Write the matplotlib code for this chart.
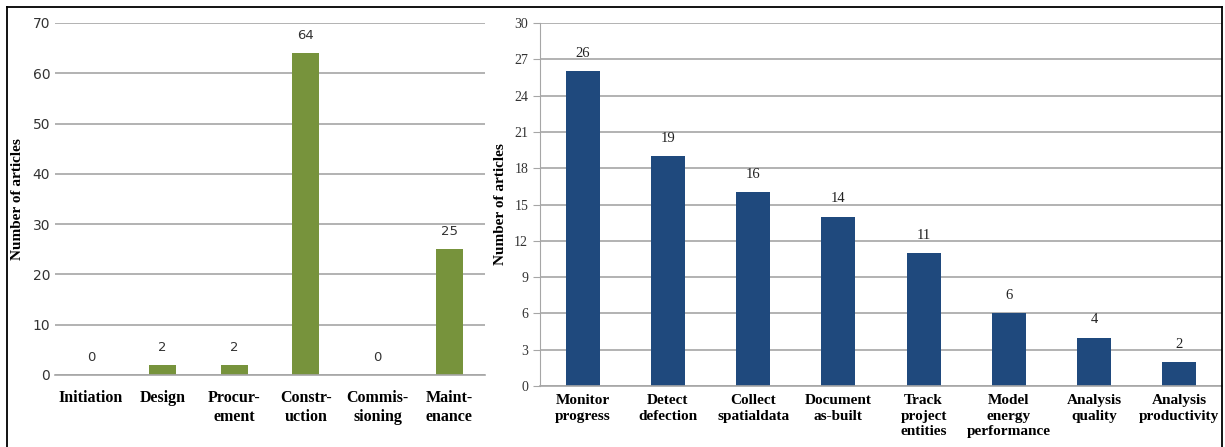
import matplotlib
matplotlib.use('Agg')
import matplotlib.pyplot as plt
from matplotlib.lines import Line2D

# data
phases = ['Initiation', 'Design', 'Procur-\nement', 'Constr-\nuction', 'Commis-\nsioning', 'Maint-\nenance']
phase_counts = [0, 2, 2, 64, 0, 25]

tasks = ['Monitor\nprogress', 'Detect\ndefection', 'Collect\nspatialdata', 'Document\nas-built',
         'Track\nproject\nentities', 'Model\nenergy\nperformance', 'Analysis\nquality', 'Analysis\nproductivity']
task_counts = [26, 19, 16, 14, 11, 6, 4, 2]

green = '#77933C'
blue = '#1F497D'
grid = '#A6A6A6'

fig = plt.figure(figsize=(12.25, 4.47), dpi=100)
ax1 = fig.add_axes([55/1225, 1-375/447, 430/1225, 352/447])
ax2 = fig.add_axes([540/1225, 1-386/447, 682/1225, 363/447])

serif = 'Liberation Serif'

def style(ax, ymax, step, ticklen, tickfont):
    ax.set_ylim(0, ymax)
    ax.set_yticks(range(0, ymax + 1, step))
    ax.yaxis.grid(True, color=grid, linewidth=1.2)
    ax.set_axisbelow(True)
    for s in ['top', 'right']:
        ax.spines[s].set_visible(False)
    ax.spines['bottom'].set_color(grid)
    ax.spines['left'].set_color(grid)
    ax.spines['bottom'].set_linewidth(1.2)
    ax.tick_params(axis='y', length=ticklen, color=grid, labelsize=10, labelcolor='#333333')
    for lab in ax.get_yticklabels():
        lab.set_family(tickfont)
    ax.set_ylabel('Number of articles', family=serif, fontweight='bold', fontsize=11)

# left chart
x1 = range(len(phases))
ax1.bar(x1, phase_counts, width=0.38, color=green)
ax1.set_xlim(-0.5, len(phases) - 0.5)
ax1.set_xticks(list(x1))
ax1.set_xticklabels(phases, family=serif, fontweight='bold', fontsize=11.5, linespacing=1.2)
ax1.tick_params(axis='x', length=0, pad=11)
style(ax1, 70, 10, 0, 'DejaVu Sans')
ax1.spines['left'].set_visible(False)
ax1.yaxis.set_label_coords(-0.072, 0.5)
for i, v in enumerate(phase_counts):
    ax1.annotate(str(v), (i, v), xytext=(0, 8), textcoords='offset points',
                 ha='center', va='bottom', fontsize=9.5, color='#333333')

# right chart
x2 = range(len(tasks))
ax2.bar(x2, task_counts, width=0.4, color=blue)
ax2.set_xlim(-0.5, len(tasks) - 0.5)
ax2.set_xticks(list(x2))
ax2.set_xticklabels(tasks, family=serif, fontweight='bold', fontsize=11, linespacing=1.22)
ax2.tick_params(axis='x', length=0, pad=6)
style(ax2, 30, 3, 5, serif)
ax2.yaxis.set_label_coords(-0.048, 0.5)
for i, v in enumerate(task_counts):
    ax2.annotate(str(v), (i, v), xytext=(0, 8), textcoords='offset points',
                 ha='center', va='bottom', fontsize=10.5, family=serif, color='#222222')

# frame around the figure
fx0, fx1 = 7/1225, 1222/1225
fy = 1 - 7/447
fig.add_artist(Line2D([fx0, fx1], [fy, fy], color='black', linewidth=1.3))
fig.add_artist(Line2D([fx0, fx0], [0, fy], color='black', linewidth=1.3))
fig.add_artist(Line2D([fx1, fx1], [0, fy], color='black', linewidth=1.3))

fig.savefig('out.png', dpi=100)
